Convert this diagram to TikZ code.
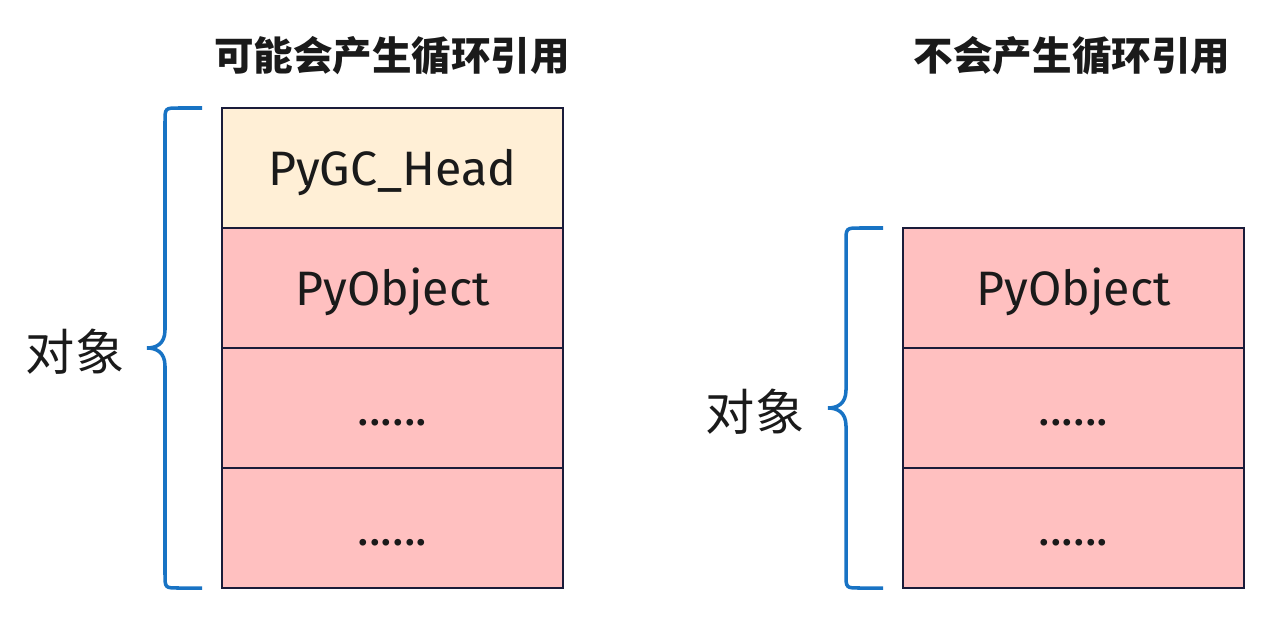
\documentclass[tikz,border=0pt]{standalone}
\usepackage{fontspec}
\setmainfont{Fira Sans}
\newfontfamily\cjk{Noto Sans CJK SC}
\usepackage{xcolor}
\usetikzlibrary{positioning, calc}
\definecolor{gchead}{HTML}{FFEFD6}
\definecolor{pyobj}{HTML}{FFC0C0}
\definecolor{cellline}{HTML}{1A1C3A}
\definecolor{bracecol}{HTML}{1873C4}
\definecolor{textmain}{HTML}{1A1A1A}

\begin{document}
\begin{tikzpicture}[
        x=0.02cm, y=-0.02cm,
        node distance=0pt,
        cell/.style={rectangle, draw=cellline, line width=1.1pt, fill=pyobj, text=textmain,
                     minimum width=6.82cm, minimum height=2.4cm, outer sep=0pt,
                     inner sep=0pt, text height=22pt, text depth=2pt,
                     font=\fontsize{27.5}{28}\selectfont},
        title/.style={font=\cjk\bfseries\fontsize{22.5}{23}\selectfont, text=textmain},
        label/.style={font=\cjk\fontsize{28}{29}\selectfont, text=textmain},
        brace/.style={draw=bracecol, line width=2pt}
      ]
        \useasboundingbox (0,0) rectangle (1274,622);

        % left column: object with GC head
        \node[cell, fill=gchead, anchor=north west] (lhead) at (222,108) {PyGC\_Head};
        \node[cell, below=of lhead] (lobj) {PyObject};
        \node[cell, below=of lobj] (ldots1) {......};
        \node[cell, below=of ldots1] (ldots2) {......};
        \node[title] (ltitle) at (392,56) {可能会产生循环引用};

        % right column: plain object
        \node[cell, anchor=north west] (robj) at (903,228) {PyObject};
        \node[cell, below=of robj] (rdots1) {......};
        \node[cell, below=of rdots1] (rdots2) {......};
        \node[title] (rtitle) at (1072,56) {不会产生循环引用};

        % braces
        \coordinate (lbtop) at ($(lhead.north west)+(-20,0)$);
        \draw[brace, shift={(lbtop)}] (0,0) -- (-23,0) .. controls (-37,0) .. (-37,14)
          -- (-37,222)
          .. controls (-37,236) and (-46,240) .. (-55,240)
          .. controls (-46,240) and (-37,244) .. (-37,258)
          -- (-37,466) .. controls (-37,480) .. (-23,480) -- (0,480);
        \node[label] (lobjlbl) at (75,352) {对象};

        \coordinate (rbtop) at ($(robj.north west)+(-20,0)$);
        \draw[brace, shift={(rbtop)}] (0,0) -- (-23,0) .. controls (-37,0) .. (-37,14)
          -- (-37,162)
          .. controls (-37,176) and (-46,180) .. (-55,180)
          .. controls (-46,180) and (-37,184) .. (-37,198)
          -- (-37,346) .. controls (-37,360) .. (-23,360) -- (0,360);
        \node[label] (robjlbl) at (755,412) {对象};
      \end{tikzpicture}
\end{document}
